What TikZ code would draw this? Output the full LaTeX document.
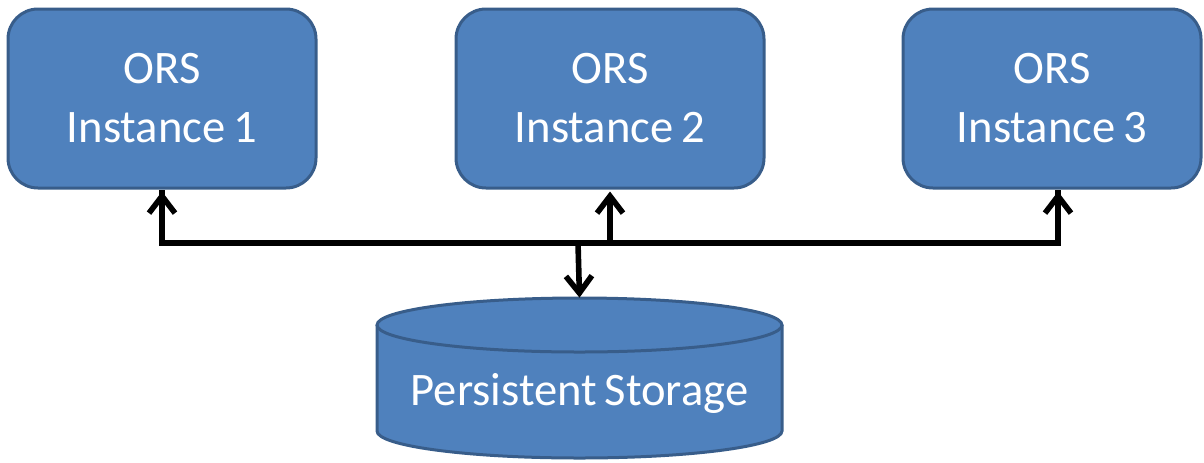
\documentclass[tikz,border=0pt]{standalone}
\usepackage{fontspec}
\setmainfont{Carlito}
\usetikzlibrary{arrows.meta}
\definecolor{boxfill}{HTML}{4F81BD}
\definecolor{boxline}{HTML}{385D8A}
\tikzset{
  orsbox/.style={draw=boxline, line width=1.5pt, fill=boxfill, rounded corners=15pt,
    minimum width=154pt, minimum height=89.5pt, inner sep=0pt, text=white,
    font=\fontsize{23.3}{29.5}\selectfont, align=center},
  conn/.style={line width=2.8pt, black},
  tip/.style={-{Straight Barb[length=8.5pt,width=13pt,line width=2.8pt]}},
}
\begin{document}
\begin{tikzpicture}[x=0.5pt,y=-0.5pt]
\useasboundingbox (0,0) rectangle (1204,462);
\node[orsbox] (b1) at (162,98.5) {ORS\\Instance\,1};
\node[orsbox] (b2) at (610,98.5) {ORS\\Instance\,2};
\node[orsbox, minimum width=149pt] (b3) at (1052,98.5) {ORS\\Instance\,3};
% cylinder
\node[minimum width=202.5pt, minimum height=80pt, inner sep=0pt] (ps) at (579.5,378) {};
\fill[boxfill] (377,325) -- (377,431) arc[start angle=180,end angle=0,x radius=202.5,y radius=27] -- (782,325) arc[start angle=360,end angle=180,x radius=202.5,y radius=27] -- cycle;
\draw[boxline, line width=1.5pt] (377,325) -- (377,431) arc[start angle=180,end angle=0,x radius=202.5,y radius=27] -- (782,325);
\draw[boxline, line width=1.5pt] (579.5,325) ellipse[x radius=202.5, y radius=27];
\node[text=white, font=\fontsize{23.3}{29.5}\selectfont] (pst) at (579.5,393) {Persistent\,Storage};
% connectors
\coordinate (j) at (578,243);
\coordinate (a3) at ([xshift=3pt]b3.south);
\draw[conn] (j) -| (b1.south);
\draw[conn] (j) -| (a3);
\draw[conn, tip] (j -| b1.south) -- ([yshift=-1pt]b1.south);
\draw[conn, tip] (j -| b2.south) -- ([yshift=-1pt]b2.south);
\draw[conn, tip] (j -| a3) -- ([yshift=-1pt]a3);
\draw[conn, tip] (j) -- (ps.north);
\end{tikzpicture}
\end{document}
